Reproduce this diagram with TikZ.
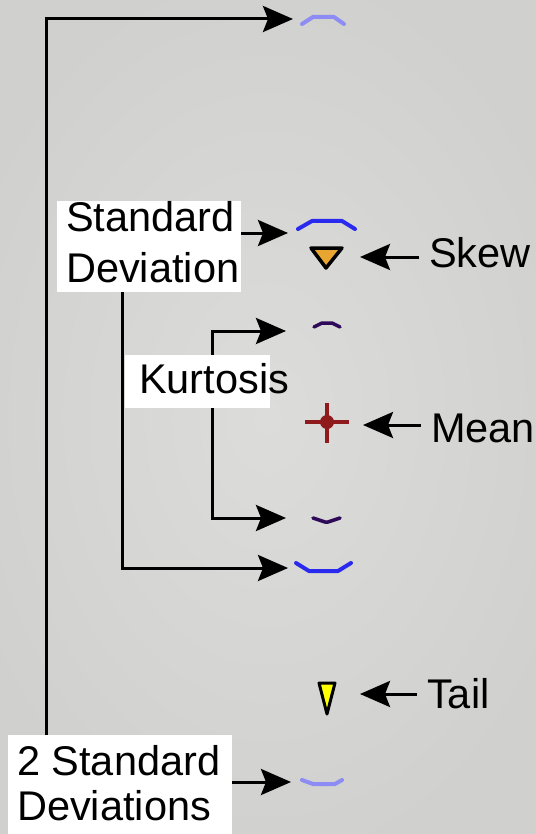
\documentclass[tikz,border=0pt]{standalone}
\usepackage{fontspec}
\setmainfont{Liberation Sans}
\usetikzlibrary{arrows.meta,calc}
\definecolor{bgin}{HTML}{DCDCDA}
\definecolor{bgout}{HTML}{D0D0CE}
\definecolor{lightbl}{HTML}{8C8CF4}
\definecolor{sdblue}{HTML}{2A2AEE}
\definecolor{kupurple}{HTML}{2E0A58}
\definecolor{meanred}{HTML}{8E1A1C}
\definecolor{skeworange}{HTML}{E8A530}
\definecolor{tailyellow}{HTML}{FFFF00}
\pgfdeclarelayer{bglayer}
\pgfdeclarelayer{lines}
\pgfsetlayers{bglayer,lines,main}
\begin{document}
\begin{tikzpicture}[x=1pt,y=-1pt,
  arr/.style={line width=3pt, -{Stealth[length=30pt,width=26pt,inset=5pt]}},
  box/.style={fill=white, draw=none, inner sep=0pt, anchor=north west},
  lbl/.style={font=\fontsize{41.5}{48}\selectfont, inner sep=0pt, anchor=base west},
  rlbl/.style={font=\fontsize{41.5}{48}\selectfont, inner ysep=0pt, inner xsep=10pt, anchor=base west},
  bracket/.style={line width=4pt, line join=round, line cap=round}]
\useasboundingbox (0,0) rectangle (535,834);
\begin{pgfonlayer}{bglayer}
  \shade[inner color=bgin, outer color=bgout] (-60,-40) rectangle (595,874);
\end{pgfonlayer}

% boxes
\node[box, minimum width=184pt, minimum height=91pt] (sdbox) at (57,201) {};
\node[box, minimum width=224pt, minimum height=100pt] (tsdbox) at (8,735) {};
\node[box, minimum width=145pt, minimum height=53pt] (kubox) at (125,355) {};

% texts
\node[lbl] (sdt1) at (66,232) {Standard};
\node[lbl] (sdt2) at (66,282) {Deviation};
\node[lbl] (tsdt1) at (17,775) {2 Standard};
\node[lbl] (tsdt2) at (17,820) {Deviations};
\node[lbl] (kut) at (139,393) {Kurtosis};
\node[rlbl] (skew) at (419,267) {Skew};
\node[rlbl] (mean) at (421,442) {Mean};
\node[rlbl] (tail) at (417,708) {Tail};

% target coordinates
\coordinate (topT) at (293,19);
\coordinate (sdUpT) at (288,233);
\coordinate (sdLoT) at (288,568);
\coordinate (kuUpT) at (286,331);
\coordinate (kuLoT) at (286,518);
\coordinate (skewT) at (360,257);
\coordinate (meanT) at (363,425);
\coordinate (tailT) at (360,694);
\coordinate (botT) at (291,782);

% connectors
\begin{pgfonlayer}{lines}
  \draw[arr] ([xshift=38pt]tsdbox.north west) |- (topT);
  \draw[arr] (sdbox.east |- sdUpT) -- (sdUpT);
  \draw[arr] ([xshift=65pt]sdbox.south west) |- (sdLoT);
  \draw[arr] ([xshift=87pt]kubox.west) |- (kuUpT);
  \draw[arr] ([xshift=87pt]kubox.west) |- (kuLoT);
  \draw[arr] (tsdbox.east |- botT) -- (botT);
  \draw[arr] (skew.west |- skewT) -- (skewT);
  \draw[arr] (mean.west |- meanT) -- (meanT);
  \draw[arr] (tail.west |- tailT) -- (tailT);
\end{pgfonlayer}

% brackets
\draw[bracket, lightbl] (302,24) -- (313,17) -- (334,17) -- (344,24);
\draw[bracket, sdblue] (298,229) -- (312,221) -- (342,221) -- (355,229);
\draw[bracket, sdblue] (296,563) -- (309,571) -- (338,571) -- (351,563);
\draw[bracket, kupurple, line width=3.5pt] (314,327) -- (322,323) -- (332,323) -- (340,327);
\draw[bracket, kupurple, line width=3.5pt] (313,518) -- (325,522) -- (328,522) -- (340,518);
\draw[bracket, lightbl] (302,780) -- (313,784) -- (335,784) -- (342,780);

% skew triangle
\draw[fill=skeworange, line width=3.5pt, line join=round] (311,248) -- (342,248) -- (326,268) -- cycle;
% tail triangle
\draw[fill=tailyellow, line width=3pt, line join=round] (319,683) -- (335,683) -- (327,714) -- cycle;
% mean cross
\draw[meanred, line width=3.5pt] (305,422) -- (349,422) (327,403) -- (327,443);
\fill[meanred] (327,422) circle (7pt);
\end{tikzpicture}
\end{document}
